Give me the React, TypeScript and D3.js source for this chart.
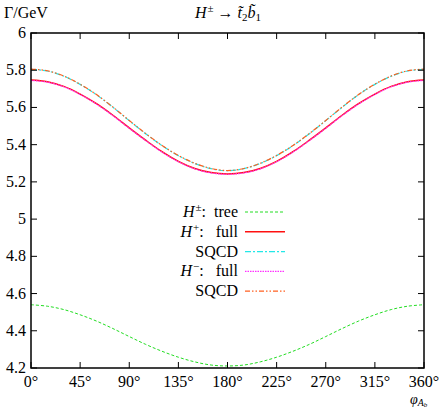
import React from 'react';
import * as d3 from 'd3';

// angle samples (degrees) and widths
const angles = [0, 15, 30, 45, 60, 75, 90, 105, 120, 135, 150, 165, 180,
  195, 210, 225, 240, 255, 270, 285, 300, 315, 330, 345, 360];

const half = (a: number[]) => a.concat(a.slice(0, -1).reverse());

const treeVals = half([4.540, 4.532, 4.514, 4.486, 4.452, 4.412, 4.369, 4.327, 4.290, 4.258, 4.233, 4.216, 4.211]);
const hpFull = half([5.747, 5.738, 5.713, 5.672, 5.620, 5.558, 5.490, 5.424, 5.362, 5.310, 5.272, 5.250, 5.243]);
const hpSqcd = half([5.805, 5.796, 5.768, 5.724, 5.668, 5.601, 5.529, 5.459, 5.395, 5.341, 5.299, 5.271, 5.260]);
const hmFull = half([5.745, 5.736, 5.711, 5.670, 5.618, 5.556, 5.488, 5.422, 5.360, 5.308, 5.270, 5.248, 5.241]);
const hmSqcd = half([5.806, 5.797, 5.769, 5.725, 5.669, 5.602, 5.530, 5.460, 5.396, 5.342, 5.300, 5.272, 5.261]);

const xTicks = [0, 45, 90, 135, 180, 225, 270, 315, 360];
const yTicks = [4.2, 4.4, 4.6, 4.8, 5, 5.2, 5.4, 5.6, 5.8, 6];

const series = [
  { name: 'tree', vals: treeVals, color: '#22dd22', dash: '3,2', w: 1 },
  { name: 'hpfull', vals: hpFull, color: '#ff1010', dash: '', w: 1.5 },
  { name: 'hpsqcd', vals: hpSqcd, color: '#22e8e8', dash: '6,2,2,2', w: 1.2 },
  { name: 'hmfull', vals: hmFull, color: '#ff30ff', dash: '1.5,1', w: 1.2 },
  { name: 'hmsqcd', vals: hmSqcd, color: '#ff6020', dash: '5,2,1.5,2,1.5,2', w: 1.2 },
];

const W = 441, H = 409;
const left = 31, right = 424, top = 33, bottom = 368;
const font = 'Liberation Serif';

export default function App() {
  const x = d3.scaleLinear().domain([0, 360]).range([left, right]);
  const y = d3.scaleLinear().domain([4.2, 6]).range([bottom, top]);
  const line = d3.line<number>()
    .x((_, i) => x(angles[i]))
    .y(d => y(d))
    .curve(d3.curveCatmullRom);

  const sup = (s: string) => (
    <><tspan fontStyle="italic">H</tspan><tspan fontSize="11" dy="-6" dx="1">{s}</tspan></>
  );
  const legend = [
    { label: <>{sup('±')}<tspan dy="6">:  tree</tspan></>, s: series[0] },
    { label: <>{sup('+')}<tspan dy="6">:   full</tspan></>, s: series[1] },
    { label: <>SQCD</>, s: series[2] },
    { label: <>{sup('−')}<tspan dy="6">:   full</tspan></>, s: series[3] },
    { label: <>SQCD</>, s: series[4] },
  ];

  return (
    <svg width={W} height={H} style={{ position: 'absolute', left: 0, top: 0, fontFamily: font }}>
      <rect width={W} height={H} fill="white" />
      {/* curves */}
      {series.map(s => (
        <path key={s.name} d={line(s.vals) || ''} fill="none" stroke={s.color}
          strokeWidth={s.w} strokeDasharray={s.dash || undefined} />
      ))}
      {/* ticks */}
      {xTicks.map(t => (
        <g key={'x' + t}>
          <line x1={x(t)} x2={x(t)} y1={bottom} y2={bottom - 6} stroke="black" />
          <line x1={x(t)} x2={x(t)} y1={top} y2={top + 6} stroke="black" />
          <text x={x(t)} y={bottom + 19} fontSize={16} textAnchor="middle">{t}°</text>
        </g>
      ))}
      {yTicks.map(t => (
        <g key={'y' + t}>
          <line x1={left} x2={left + 6} y1={y(t)} y2={y(t)} stroke="black" />
          <line x1={right} x2={right - 6} y1={y(t)} y2={y(t)} stroke="black" />
          <text x={left - 5} y={y(t) + 5} fontSize={16} textAnchor="end">{t}</text>
        </g>
      ))}
      <rect x={left} y={top} width={right - left} height={bottom - top} fill="none" stroke="black" strokeWidth={1.5} />
      {/* legend */}
      {legend.map((l, i) => {
        const ly = 212 + i * 19.8;
        return (
          <g key={'l' + i}>
            <text x={238} y={ly + 5} fontSize={16} textAnchor="end" style={{ whiteSpace: 'pre' }}>{l.label}</text>
            <line x1={245} x2={285} y1={ly} y2={ly} stroke={l.s.color} strokeWidth={l.s.w}
              strokeDasharray={l.s.dash || undefined} />
          </g>
        );
      })}
      {/* titles */}
      <text x={4} y={18} fontSize={16}>Γ/GeV</text>
      <text x={228} y={18} fontSize={16} textAnchor="middle">
        <tspan fontStyle="italic">H</tspan><tspan fontSize="11" dy="-6" dx="1">±</tspan>
        <tspan dy="6"> → </tspan>
        <tspan fontStyle="italic">t̃</tspan><tspan fontSize="11" dy="3">2</tspan>
        <tspan dy="-3" fontStyle="italic">b̃</tspan><tspan fontSize="11" dy="3">1</tspan>
      </text>
      <text x={410} y={404} fontSize={14}>
        <tspan fontStyle="italic">φ</tspan><tspan fontSize="10" fontStyle="italic" dy="1.5">A</tspan><tspan fontSize="7" fontStyle="italic" dy="1.5">b</tspan>
      </text>
    </svg>
  );
}
